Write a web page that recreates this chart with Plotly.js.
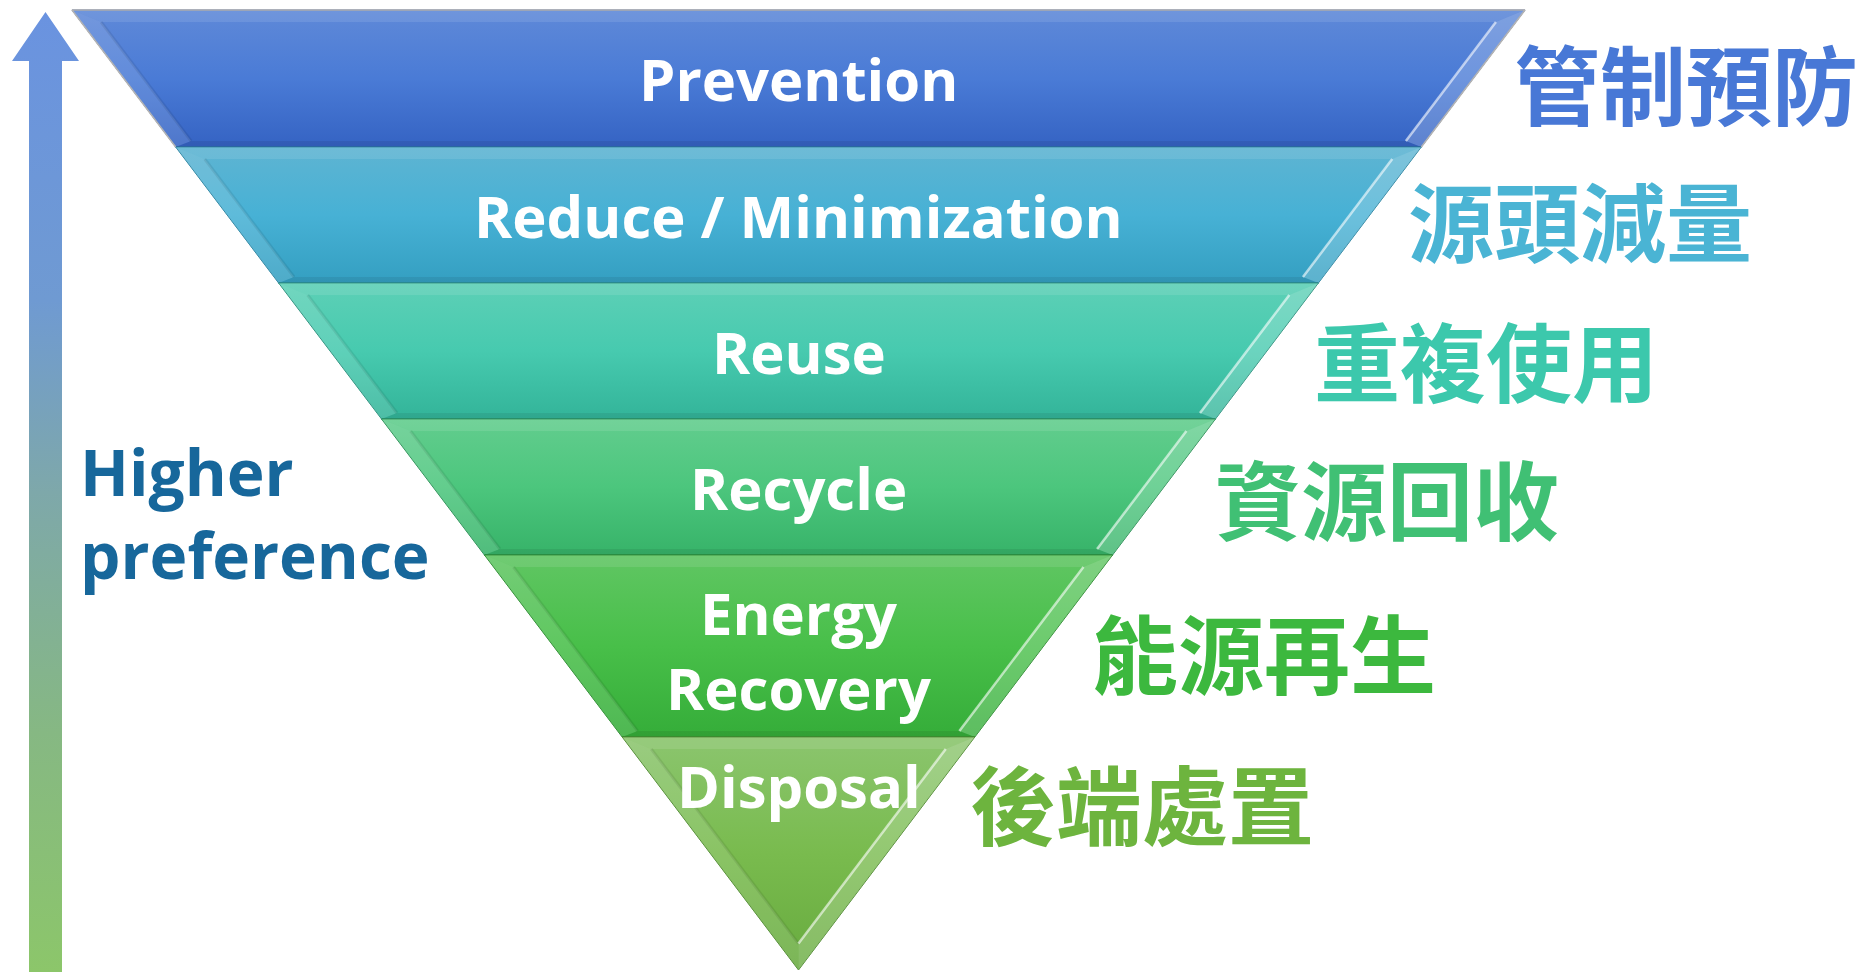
<!DOCTYPE html>
<html><head><meta charset="utf-8">
<script src="https://cdn.plot.ly/plotly-3.0.1.min.js"></script>
<style>html,body{margin:0;padding:0;background:#fff;overflow:hidden}#chart{width:1871px;height:972px}</style>
</head><body><div id="chart"></div>
<script>
// ---------- data ----------
const tiersEn = ['Prevention', 'Reduce / Minimization', 'Reuse', 'Recycle', 'Energy<br>Recovery', 'Disposal'];
const tiersZh = ['管制預防', '源頭減量', '重複使用', '資源回收', '能源再生', '後端處置'];
const tierDepth = [137, 136, 136, 136, 182, 233];   // relative depth of each tier in the inverted pyramid
const arrowText = ['Higher', 'preference'];

// ---------- styles ----------
const tierTop    = ['#5f89d8', '#5eb4d2', '#5dd0b6', '#62cd8e', '#60c663', '#8bc56e'];
const tierMid    = ['#4a7bd6', '#47b1d5', '#47caaf', '#4cc67d', '#48bf49', '#79bb4e'];
const tierBottom = ['#3563c3', '#349fc1', '#33b499', '#37b369', '#35ad39', '#68ab3f'];
const tierEdge   = ['#2a4f9e', '#2a83a0', '#2a8f7c', '#2a8f55', '#2a8a2e', '#4f8a30'];
const zhColor    = ['#4878d6', '#4ab4d4', '#3cc8ac', '#40c074', '#3cb83e', '#6db43e'];
const enOffset   = [0, 0, 0, 0, 4, 48];     // label centre below tier middle / tier top (last)
const zhOffset   = [3, 3, 7, 9, 4, 64];
const zhGap      = [41, 38, 50, 56, 49, 42];

// ---------- geometry (plot units = page pixels) ----------
const W = 1871, H = 972;
const TOP_Y = 10, APEX_Y = 970, CX = 798.5, HALF_TOP = 726.5;
const BEV = 20, BEV_T = 12, BEV_B = 6;
const sumDepth = tierDepth.reduce((a, b) => a + b, 0);
const k = (APEX_Y - TOP_Y) / sumDepth;
const bounds = [TOP_Y];
tierDepth.forEach(d => bounds.push(bounds[bounds.length - 1] + d * k));
const half = y => Math.max(0, HALF_TOP * (APEX_Y - y) / (APEX_Y - TOP_Y));

const traces = [];
function poly(xs, ys, extra) {
  traces.push(Object.assign({
    type: 'scatter', mode: 'lines', x: xs.concat([xs[0]]), y: ys.concat([ys[0]]),
    fill: 'toself', line: {width: 0}, hoverinfo: 'skip', showlegend: false
  }, extra));
}
function seg(xs, ys, color, width) {
  traces.push({type: 'scatter', mode: 'lines', x: xs, y: ys, line: {color: color, width: width},
    hoverinfo: 'skip', showlegend: false});
}

// arrow
poly([29, 62, 62, 79, 45.5, 12, 29], [H, H, 61, 61, 12, 61, 61], {
  fillcolor: '#7fa8a8',
  fillgradient: {type: 'vertical', start: 12, stop: H,
    colorscale: [[0, '#6a93e0'], [0.3, '#6f9ad2'], [0.5, '#7ea8aa'], [0.75, '#86b883'], [1, '#8cc66a']]}
});

const annotations = [];
const last = tierDepth.length - 1;
for (let i = 0; i < tierDepth.length; i++) {
  const y0 = bounds[i], y1 = bounds[i + 1];
  const L0 = CX - half(y0), R0 = CX + half(y0), L1 = CX - half(y1), R1 = CX + half(y1);
  poly([L0, R0, R1, L1], [y0, y0, y1, y1], {
    fillcolor: tierMid[i],
    fillgradient: {type: 'vertical', start: y0, stop: y1,
      colorscale: [[0, tierTop[i]], [0.5, tierMid[i]], [1, tierBottom[i]]]},
    line: {width: 1, color: tierEdge[i]}
  });
  const ih = y => half(y) - BEV;
  const iy0 = y0 + BEV_T;
  let iy1 = y1 - BEV_B;
  if (ih(iy1) < 0) iy1 = APEX_Y - BEV * (APEX_Y - TOP_Y) / HALF_TOP;
  const iL0 = CX - ih(iy0), iR0 = CX + ih(iy0);
  const iL1 = CX - Math.max(0, ih(iy1)), iR1 = CX + Math.max(0, ih(iy1));
  // top bevel
  poly([L0, R0, iR0, iL0], [y0, y0, iy0, iy0], {fillcolor: 'rgba(255,255,255,0.10)'});
  // left bevel
  poly([L0, iL0, iL1, L1], [y0, iy0, iy1, y1], {fillcolor: 'rgba(255,255,255,0.13)'});
  // right bevel
  poly([R0, R1, iR1, iR0], [y0, y1, iy1, iy0], {fillcolor: 'rgba(255,255,255,0.20)'});
  // bottom bevel
  if (i < last) poly([L1, R1, iR1, iL1], [y1, y1, iy1, iy1], {fillcolor: 'rgba(0,0,0,0.07)'});
  // inner shadow and highlight
  seg([iL0, iL1], [iy0, iy1], 'rgba(0,0,0,0.08)', 3);
  seg([iR0, iR1], [iy0, iy1], 'rgba(255,255,255,0.6)', 2.5);
  if (i < last) seg([L1, R1], [y1, y1], tierEdge[i], 1.6);

  // labels
  const enY = i < last ? (y0 + y1) / 2 + enOffset[i] : y0 + enOffset[i];
  annotations.push({x: CX, y: enY, xref: 'x', yref: 'y', text: tiersEn[i], showarrow: false,
    font: {family: 'Open Sans, sans-serif', size: 58, color: '#ffffff', weight: 700}});
  const zhY = i < last ? (y0 + y1) / 2 + zhOffset[i] : y0 + zhOffset[i];
  annotations.push({x: CX + half(zhY) + zhGap[i], y: zhY, xref: 'x', yref: 'y', xanchor: 'left',
    text: tiersZh[i], showarrow: false,
    font: {family: 'Noto Sans CJK TC, sans-serif', size: 86, color: zhColor[i], weight: 700}});
}
// grey outline of top tier
seg([CX - half(bounds[1]), CX - half(TOP_Y), CX + half(TOP_Y), CX + half(bounds[1])],
    [bounds[1], TOP_Y, TOP_Y, bounds[1]], '#b4b4b4', 1.5);

annotations.push({x: 78, y: 513, xref: 'x', yref: 'y', xanchor: 'left', align: 'left',
  text: arrowText.join('<br>'), showarrow: false,
  font: {family: 'Open Sans, sans-serif', size: 64, color: '#17679b', weight: 700}});

const layout = {
  width: W, height: H, margin: {l: 0, r: 0, t: 0, b: 0},
  paper_bgcolor: '#ffffff', plot_bgcolor: '#ffffff', showlegend: false,
  xaxis: {range: [0, W], visible: false, fixedrange: true},
  yaxis: {range: [H, 0], visible: false, fixedrange: true},
  annotations: annotations
};
Plotly.newPlot('chart', traces, layout, {staticPlot: true, displayModeBar: false});
</script>
</body></html>
